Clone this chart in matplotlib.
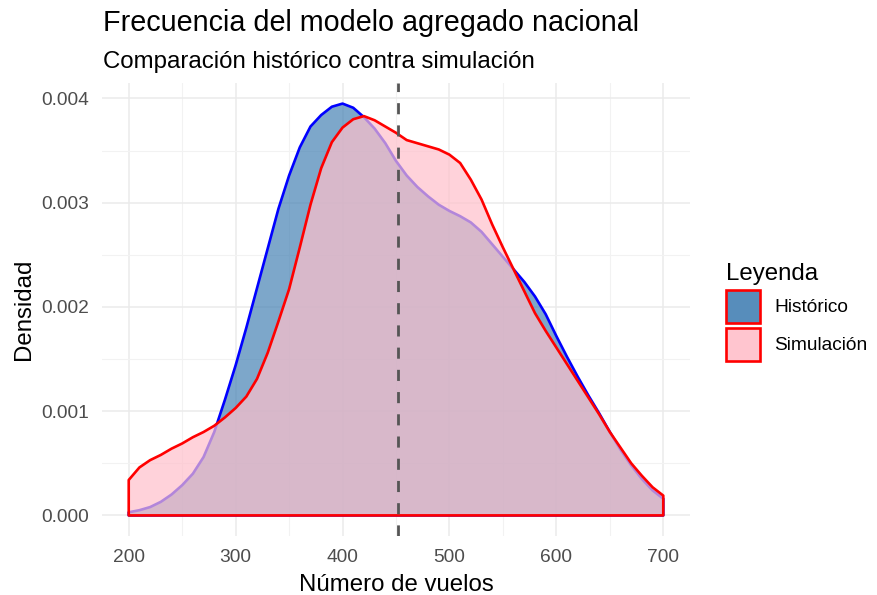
import matplotlib
matplotlib.use("Agg")
import matplotlib.pyplot as plt
from matplotlib.patches import Patch
from matplotlib.colors import to_rgba
import numpy as np

# ---------------- data ----------------
vuelos = list(range(200, 701, 10))
densidad_historico = [0.03, 0.05, 0.08, 0.13, 0.20, 0.29, 0.40, 0.56, 0.80, 1.11,
                      1.44, 1.80, 2.18, 2.56, 2.94, 3.26, 3.53, 3.73, 3.84, 3.92,
                      3.95, 3.91, 3.82, 3.71, 3.57, 3.40, 3.26, 3.15, 3.06, 2.98,
                      2.92, 2.87, 2.81, 2.72, 2.60, 2.48, 2.36, 2.24, 2.10, 1.93,
                      1.72, 1.52, 1.33, 1.15, 0.98, 0.80, 0.63, 0.48, 0.35, 0.24,
                      0.16]
densidad_simulacion = [0.34, 0.46, 0.53, 0.58, 0.64, 0.69, 0.75, 0.80, 0.86, 0.94,
                       1.03, 1.14, 1.31, 1.56, 1.86, 2.17, 2.57, 2.98, 3.33, 3.58,
                       3.72, 3.80, 3.83, 3.79, 3.73, 3.67, 3.60, 3.57, 3.54, 3.51,
                       3.46, 3.38, 3.22, 3.03, 2.79, 2.57, 2.36, 2.15, 1.94, 1.77,
                       1.61, 1.45, 1.29, 1.13, 0.97, 0.80, 0.65, 0.50, 0.38, 0.27,
                       0.19]
escala = 1e-3
media_simulacion = 452
series = ["Histórico", "Simulación"]
x_ticks = [200, 300, 400, 500, 600, 700]
y_ticks = [0.000, 0.001, 0.002, 0.003, 0.004]

# ---------------- style ----------------
plt.rcParams['font.family'] = ['Liberation Sans', 'DejaVu Sans']
col_hist = "#4682B4"
col_sim = "#FFC0CB"
alpha = 0.7
tick_col = "#4D4D4D"

fig = plt.figure(figsize=(8.78, 5.95), dpi=100)
ax = fig.add_axes([102 / 878, 1 - 536 / 595, (690 - 102) / 878, (536 - 83) / 595])

x = np.array(vuelos, dtype=float)
yh = np.array(densidad_historico) * escala
ys = np.array(densidad_simulacion) * escala

# historic polygon
ax.fill(np.r_[x, x[-1], x[0]], np.r_[yh, 0, 0],
        facecolor=to_rgba(col_hist, alpha), edgecolor="blue", lw=1.9, zorder=3,
        joinstyle="round")
# simulation polygon
ax.fill(np.r_[x, x[-1], x[0]], np.r_[ys, 0, 0],
        facecolor=to_rgba(col_sim, alpha), edgecolor="red", lw=1.9, zorder=4,
        joinstyle="round")

ax.axvline(media_simulacion, color="#555555", lw=2.0, dashes=(4.0, 4.0), zorder=5)

# axes limits (ggplot-like expansion)
xmin, xmax = min(vuelos), max(vuelos)
ymax = max(max(yh), max(ys))
ax.set_xlim(xmin - 0.05 * (xmax - xmin), xmax + 0.05 * (xmax - xmin))
ax.set_ylim(-0.05 * ymax, ymax * 1.05)

ax.set_xticks(x_ticks)
ax.set_xticks([250, 350, 450, 550, 650], minor=True)
ax.set_yticks(y_ticks)
ax.set_yticks([0.0005, 0.0015, 0.0025, 0.0035], minor=True)
ax.set_yticklabels([f"{v:.3f}" for v in y_ticks])
ax.tick_params(which="both", length=0)
ax.tick_params(axis="both", labelsize=13.8, labelcolor=tick_col)
ax.tick_params(axis="y", pad=9)
ax.tick_params(axis="x", pad=9)
ax.grid(which="major", color="#EBEBEB", lw=1.1)
ax.grid(which="minor", color="#F2F2F2", lw=0.8)
ax.set_axisbelow(True)
for s in ax.spines.values():
    s.set_visible(False)

ax.set_xlabel("Número de vuelos", fontsize=17.3, labelpad=6)
ax.set_ylabel("Densidad", fontsize=17.3, labelpad=5)

fig.text(103 / 878, 1 - 31 / 595, "Frecuencia del modelo agregado nacional",
         fontsize=20.7, ha="left", va="baseline")
fig.text(103 / 878, 1 - 68 / 595, "Comparación histórico contra simulación",
         fontsize=17.3, ha="left", va="baseline")

handles = [Patch(facecolor=to_rgba(col_hist, 0.91), edgecolor="red", lw=1.9),
           Patch(facecolor=to_rgba(col_sim, 0.91), edgecolor="red", lw=1.9)]
leg = fig.legend(handles, series, loc="upper left",
                 bbox_to_anchor=(726 / 878, 1 - 263 / 595),
                 frameon=False, fontsize=13.8, title="Leyenda",
                 title_fontsize=17.3, handlelength=1.8, handleheight=2.27,
                 labelspacing=0.25, handletextpad=0.7, borderpad=0,
                 borderaxespad=0, alignment="left")

fig.savefig("out.png", dpi=100)
